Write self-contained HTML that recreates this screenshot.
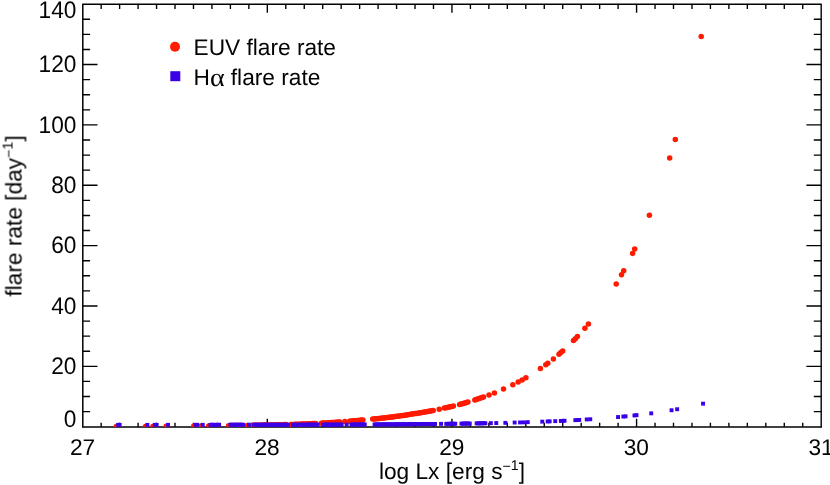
<!DOCTYPE html>
<html><head><meta charset="utf-8"><title>flare rate</title>
<style>html,body{margin:0;padding:0;background:#fff;}svg{display:block;}</style>
</head><body>
<svg width="830" height="485" viewBox="0 0 830 485">
<rect width="830" height="485" fill="#fff"/>
<defs><clipPath id="c"><rect x="82.70" y="4.20" width="738.50" height="422.70"/></clipPath></defs>
<g stroke="#000" fill="none" stroke-linecap="butt">
<path stroke-width="1.4" d="M82.20 4.20H821.70"/>
<path stroke-width="1.4" d="M821.20 4.20V427.40"/>
<path stroke-width="1.6" d="M82.30 426.95H821.70"/>
<path stroke-width="1.5" d="M82.80 4.20V427.40"/>
</g>
<g stroke="#000" stroke-width="1.38" fill="none" stroke-linecap="butt">
<path d="M101.16 426.70V422.70M101.16 4.20V8.90"/>
<path d="M119.62 426.70V422.70M119.62 4.20V8.90"/>
<path d="M138.09 426.70V422.70M138.09 4.20V8.90"/>
<path d="M156.55 426.70V422.70M156.55 4.20V8.90"/>
<path d="M175.01 426.70V422.70M175.01 4.20V8.90"/>
<path d="M193.48 426.70V422.70M193.48 4.20V8.90"/>
<path d="M211.94 426.70V422.70M211.94 4.20V8.90"/>
<path d="M230.40 426.70V422.70M230.40 4.20V8.90"/>
<path d="M248.86 426.70V422.70M248.86 4.20V8.90"/>
<path d="M267.32 426.70V418.70M267.32 4.20V12.80"/>
<path d="M285.79 426.70V422.70M285.79 4.20V8.90"/>
<path d="M304.25 426.70V422.70M304.25 4.20V8.90"/>
<path d="M322.71 426.70V422.70M322.71 4.20V8.90"/>
<path d="M341.17 426.70V422.70M341.17 4.20V8.90"/>
<path d="M359.64 426.70V422.70M359.64 4.20V8.90"/>
<path d="M378.10 426.70V422.70M378.10 4.20V8.90"/>
<path d="M396.56 426.70V422.70M396.56 4.20V8.90"/>
<path d="M415.03 426.70V422.70M415.03 4.20V8.90"/>
<path d="M433.49 426.70V422.70M433.49 4.20V8.90"/>
<path d="M451.95 426.70V418.70M451.95 4.20V12.80"/>
<path d="M470.41 426.70V422.70M470.41 4.20V8.90"/>
<path d="M488.87 426.70V422.70M488.87 4.20V8.90"/>
<path d="M507.34 426.70V422.70M507.34 4.20V8.90"/>
<path d="M525.80 426.70V422.70M525.80 4.20V8.90"/>
<path d="M544.26 426.70V422.70M544.26 4.20V8.90"/>
<path d="M562.73 426.70V422.70M562.73 4.20V8.90"/>
<path d="M581.19 426.70V422.70M581.19 4.20V8.90"/>
<path d="M599.65 426.70V422.70M599.65 4.20V8.90"/>
<path d="M618.11 426.70V422.70M618.11 4.20V8.90"/>
<path d="M636.58 426.70V418.70M636.58 4.20V12.80"/>
<path d="M655.04 426.70V422.70M655.04 4.20V8.90"/>
<path d="M673.50 426.70V422.70M673.50 4.20V8.90"/>
<path d="M691.96 426.70V422.70M691.96 4.20V8.90"/>
<path d="M710.42 426.70V422.70M710.42 4.20V8.90"/>
<path d="M728.89 426.70V422.70M728.89 4.20V8.90"/>
<path d="M747.35 426.70V422.70M747.35 4.20V8.90"/>
<path d="M765.81 426.70V422.70M765.81 4.20V8.90"/>
<path d="M784.28 426.70V422.70M784.28 4.20V8.90"/>
<path d="M802.74 426.70V422.70M802.74 4.20V8.90"/>
<path d="M82.70 411.61H90.10M821.20 411.61H813.80"/>
<path d="M82.70 396.52H90.10M821.20 396.52H813.80"/>
<path d="M82.70 381.43H90.10M821.20 381.43H813.80"/>
<path d="M82.70 366.34H97.50M821.20 366.34H806.40"/>
<path d="M82.70 351.25H90.10M821.20 351.25H813.80"/>
<path d="M82.70 336.16H90.10M821.20 336.16H813.80"/>
<path d="M82.70 321.07H90.10M821.20 321.07H813.80"/>
<path d="M82.70 305.99H97.50M821.20 305.99H806.40"/>
<path d="M82.70 290.90H90.10M821.20 290.90H813.80"/>
<path d="M82.70 275.81H90.10M821.20 275.81H813.80"/>
<path d="M82.70 260.72H90.10M821.20 260.72H813.80"/>
<path d="M82.70 245.63H97.50M821.20 245.63H806.40"/>
<path d="M82.70 230.54H90.10M821.20 230.54H813.80"/>
<path d="M82.70 215.45H90.10M821.20 215.45H813.80"/>
<path d="M82.70 200.36H90.10M821.20 200.36H813.80"/>
<path d="M82.70 185.27H97.50M821.20 185.27H806.40"/>
<path d="M82.70 170.18H90.10M821.20 170.18H813.80"/>
<path d="M82.70 155.09H90.10M821.20 155.09H813.80"/>
<path d="M82.70 140.00H90.10M821.20 140.00H813.80"/>
<path d="M82.70 124.91H97.50M821.20 124.91H806.40"/>
<path d="M82.70 109.82H90.10M821.20 109.82H813.80"/>
<path d="M82.70 94.74H90.10M821.20 94.74H813.80"/>
<path d="M82.70 79.65H90.10M821.20 79.65H813.80"/>
<path d="M82.70 64.56H97.50M821.20 64.56H806.40"/>
<path d="M82.70 49.47H90.10M821.20 49.47H813.80"/>
<path d="M82.70 34.38H90.10M821.20 34.38H813.80"/>
<path d="M82.70 19.29H90.10M821.20 19.29H813.80"/>
</g>
<g clip-path="url(#c)">
<g fill="#ff1a00">
<circle cx="116.3" cy="426.5" r="2.75"/>
<circle cx="117.8" cy="426.5" r="2.75"/>
<circle cx="145.5" cy="426.4" r="2.75"/>
<circle cx="152.9" cy="426.4" r="2.75"/>
<circle cx="154.8" cy="426.4" r="2.75"/>
<circle cx="166.2" cy="426.3" r="2.75"/>
<circle cx="193.8" cy="426.1" r="2.75"/>
<circle cx="195.2" cy="426.1" r="2.75"/>
<circle cx="200.8" cy="426.0" r="2.75"/>
<circle cx="208.6" cy="425.9" r="2.75"/>
<circle cx="210.1" cy="425.9" r="2.75"/>
<circle cx="211.5" cy="425.9" r="2.75"/>
<circle cx="212.9" cy="425.9" r="2.75"/>
<circle cx="214.4" cy="425.9" r="2.75"/>
<circle cx="215.9" cy="425.9" r="2.75"/>
<circle cx="217.3" cy="425.9" r="2.75"/>
<circle cx="228.6" cy="425.7" r="2.75"/>
<circle cx="230.0" cy="425.7" r="2.75"/>
<circle cx="231.4" cy="425.7" r="2.75"/>
<circle cx="232.8" cy="425.7" r="2.75"/>
<circle cx="234.2" cy="425.6" r="2.75"/>
<circle cx="235.7" cy="425.6" r="2.75"/>
<circle cx="237.1" cy="425.6" r="2.75"/>
<circle cx="238.5" cy="425.6" r="2.75"/>
<circle cx="239.9" cy="425.6" r="2.75"/>
<circle cx="241.3" cy="425.5" r="2.75"/>
<circle cx="247.3" cy="425.4" r="2.75"/>
<circle cx="252.2" cy="425.3" r="2.75"/>
<circle cx="253.6" cy="425.3" r="2.75"/>
<circle cx="255.0" cy="425.3" r="2.75"/>
<circle cx="256.4" cy="425.3" r="2.75"/>
<circle cx="257.9" cy="425.2" r="2.75"/>
<circle cx="259.3" cy="425.2" r="2.75"/>
<circle cx="260.7" cy="425.2" r="2.75"/>
<circle cx="262.1" cy="425.2" r="2.75"/>
<circle cx="263.5" cy="425.1" r="2.75"/>
<circle cx="264.9" cy="425.1" r="2.75"/>
<circle cx="266.3" cy="425.1" r="2.75"/>
<circle cx="267.7" cy="425.0" r="2.75"/>
<circle cx="269.1" cy="425.0" r="2.75"/>
<circle cx="270.6" cy="425.0" r="2.75"/>
<circle cx="272.0" cy="425.0" r="2.75"/>
<circle cx="273.4" cy="424.9" r="2.75"/>
<circle cx="274.8" cy="424.9" r="2.75"/>
<circle cx="276.2" cy="424.9" r="2.75"/>
<circle cx="277.6" cy="424.8" r="2.75"/>
<circle cx="279.0" cy="424.8" r="2.75"/>
<circle cx="280.5" cy="424.7" r="2.75"/>
<circle cx="281.9" cy="424.7" r="2.75"/>
<circle cx="283.3" cy="424.7" r="2.75"/>
<circle cx="284.7" cy="424.6" r="2.75"/>
<circle cx="286.1" cy="424.6" r="2.75"/>
<circle cx="291.0" cy="424.5" r="2.75"/>
<circle cx="292.4" cy="424.4" r="2.75"/>
<circle cx="293.8" cy="424.4" r="2.75"/>
<circle cx="295.1" cy="424.3" r="2.75"/>
<circle cx="296.5" cy="424.3" r="2.75"/>
<circle cx="297.9" cy="424.3" r="2.75"/>
<circle cx="299.3" cy="424.2" r="2.75"/>
<circle cx="300.6" cy="424.2" r="2.75"/>
<circle cx="302.0" cy="424.1" r="2.75"/>
<circle cx="303.4" cy="424.1" r="2.75"/>
<circle cx="304.8" cy="424.0" r="2.75"/>
<circle cx="306.2" cy="424.0" r="2.75"/>
<circle cx="307.5" cy="423.9" r="2.75"/>
<circle cx="308.9" cy="423.8" r="2.75"/>
<circle cx="310.3" cy="423.8" r="2.75"/>
<circle cx="311.7" cy="423.7" r="2.75"/>
<circle cx="313.0" cy="423.6" r="2.75"/>
<circle cx="314.4" cy="423.6" r="2.75"/>
<circle cx="315.8" cy="423.5" r="2.75"/>
<circle cx="321.4" cy="423.2" r="2.75"/>
<circle cx="322.8" cy="423.1" r="2.75"/>
<circle cx="324.2" cy="423.0" r="2.75"/>
<circle cx="325.6" cy="422.9" r="2.75"/>
<circle cx="327.1" cy="422.9" r="2.75"/>
<circle cx="328.5" cy="422.8" r="2.75"/>
<circle cx="329.9" cy="422.7" r="2.75"/>
<circle cx="331.3" cy="422.6" r="2.75"/>
<circle cx="332.7" cy="422.5" r="2.75"/>
<circle cx="334.1" cy="422.4" r="2.75"/>
<circle cx="335.6" cy="422.3" r="2.75"/>
<circle cx="337.0" cy="422.2" r="2.75"/>
<circle cx="338.4" cy="422.1" r="2.75"/>
<circle cx="339.8" cy="422.0" r="2.75"/>
<circle cx="344.8" cy="421.6" r="2.75"/>
<circle cx="349.6" cy="421.2" r="2.75"/>
<circle cx="351.1" cy="421.1" r="2.75"/>
<circle cx="352.6" cy="420.9" r="2.75"/>
<circle cx="354.0" cy="420.8" r="2.75"/>
<circle cx="355.5" cy="420.7" r="2.75"/>
<circle cx="357.0" cy="420.5" r="2.75"/>
<circle cx="358.5" cy="420.4" r="2.75"/>
<circle cx="359.9" cy="420.3" r="2.75"/>
<circle cx="361.4" cy="420.1" r="2.75"/>
<circle cx="362.9" cy="420.0" r="2.75"/>
<circle cx="372.7" cy="419.1" r="2.75"/>
<circle cx="374.1" cy="419.0" r="2.75"/>
<circle cx="375.5" cy="418.8" r="2.75"/>
<circle cx="376.9" cy="418.7" r="2.75"/>
<circle cx="378.3" cy="418.5" r="2.75"/>
<circle cx="379.7" cy="418.4" r="2.75"/>
<circle cx="381.1" cy="418.2" r="2.75"/>
<circle cx="382.5" cy="418.1" r="2.75"/>
<circle cx="384.0" cy="417.9" r="2.75"/>
<circle cx="385.4" cy="417.7" r="2.75"/>
<circle cx="386.8" cy="417.6" r="2.75"/>
<circle cx="388.2" cy="417.4" r="2.75"/>
<circle cx="389.6" cy="417.2" r="2.75"/>
<circle cx="391.0" cy="417.1" r="2.75"/>
<circle cx="392.4" cy="416.9" r="2.75"/>
<circle cx="393.8" cy="416.7" r="2.75"/>
<circle cx="395.2" cy="416.5" r="2.75"/>
<circle cx="396.6" cy="416.3" r="2.75"/>
<circle cx="398.0" cy="416.2" r="2.75"/>
<circle cx="399.4" cy="416.0" r="2.75"/>
<circle cx="400.8" cy="415.8" r="2.75"/>
<circle cx="402.2" cy="415.6" r="2.75"/>
<circle cx="403.7" cy="415.4" r="2.75"/>
<circle cx="405.1" cy="415.2" r="2.75"/>
<circle cx="406.5" cy="414.9" r="2.75"/>
<circle cx="407.9" cy="414.7" r="2.75"/>
<circle cx="409.3" cy="414.5" r="2.75"/>
<circle cx="410.7" cy="414.3" r="2.75"/>
<circle cx="412.1" cy="414.1" r="2.75"/>
<circle cx="413.5" cy="413.8" r="2.75"/>
<circle cx="414.9" cy="413.6" r="2.75"/>
<circle cx="416.3" cy="413.4" r="2.75"/>
<circle cx="417.7" cy="413.2" r="2.75"/>
<circle cx="419.1" cy="412.9" r="2.75"/>
<circle cx="420.5" cy="412.7" r="2.75"/>
<circle cx="421.9" cy="412.5" r="2.75"/>
<circle cx="423.4" cy="412.2" r="2.75"/>
<circle cx="424.8" cy="412.0" r="2.75"/>
<circle cx="426.2" cy="411.7" r="2.75"/>
<circle cx="427.6" cy="411.5" r="2.75"/>
<circle cx="429.0" cy="411.2" r="2.75"/>
<circle cx="430.4" cy="410.9" r="2.75"/>
<circle cx="431.8" cy="410.7" r="2.75"/>
<circle cx="433.2" cy="410.4" r="2.75"/>
<circle cx="439.2" cy="409.2" r="2.75"/>
<circle cx="444.4" cy="408.1" r="2.75"/>
<circle cx="445.9" cy="407.8" r="2.75"/>
<circle cx="447.4" cy="407.4" r="2.75"/>
<circle cx="448.9" cy="407.1" r="2.75"/>
<circle cx="450.4" cy="406.7" r="2.75"/>
<circle cx="451.9" cy="406.4" r="2.75"/>
<circle cx="453.4" cy="406.0" r="2.75"/>
<circle cx="459.6" cy="404.4" r="2.75"/>
<circle cx="461.0" cy="404.0" r="2.75"/>
<circle cx="462.4" cy="403.7" r="2.75"/>
<circle cx="463.8" cy="403.3" r="2.75"/>
<circle cx="465.1" cy="402.9" r="2.75"/>
<circle cx="466.5" cy="402.5" r="2.75"/>
<circle cx="467.9" cy="402.1" r="2.75"/>
<circle cx="474.8" cy="400.0" r="2.75"/>
<circle cx="476.2" cy="399.5" r="2.75"/>
<circle cx="477.7" cy="399.1" r="2.75"/>
<circle cx="479.1" cy="398.6" r="2.75"/>
<circle cx="480.6" cy="398.1" r="2.75"/>
<circle cx="482.1" cy="397.6" r="2.75"/>
<circle cx="483.5" cy="397.1" r="2.75"/>
<circle cx="489.0" cy="395.1" r="2.75"/>
<circle cx="494.4" cy="393.0" r="2.75"/>
<circle cx="503.5" cy="389.1" r="2.75"/>
<circle cx="512.8" cy="384.8" r="2.75"/>
<circle cx="518.2" cy="382.0" r="2.75"/>
<circle cx="522.1" cy="379.9" r="2.75"/>
<circle cx="525.9" cy="377.7" r="2.75"/>
<circle cx="540.4" cy="368.5" r="2.75"/>
<circle cx="545.8" cy="364.7" r="2.75"/>
<circle cx="547.8" cy="363.2" r="2.75"/>
<circle cx="553.4" cy="358.9" r="2.75"/>
<circle cx="559.0" cy="354.2" r="2.75"/>
<circle cx="560.8" cy="352.6" r="2.75"/>
<circle cx="562.7" cy="351.0" r="2.75"/>
<circle cx="573.5" cy="340.6" r="2.75"/>
<circle cx="575.4" cy="338.7" r="2.75"/>
<circle cx="577.4" cy="336.6" r="2.75"/>
<circle cx="584.9" cy="328.2" r="2.75"/>
<circle cx="588.4" cy="324.0" r="2.75"/>
<circle cx="616.2" cy="284.0" r="2.75"/>
<circle cx="621.5" cy="274.8" r="2.75"/>
<circle cx="623.7" cy="270.8" r="2.75"/>
<circle cx="632.6" cy="253.4" r="2.75"/>
<circle cx="634.7" cy="249.1" r="2.75"/>
<circle cx="649.4" cy="215.3" r="2.75"/>
<circle cx="669.7" cy="157.9" r="2.75"/>
<circle cx="675.3" cy="139.5" r="2.75"/>
<circle cx="701.2" cy="36.5" r="2.75"/>
</g>
<g fill="#3a00e6">
<rect x="116.2" y="422.9" width="3.9" height="3.9"/>
<rect x="117.7" y="422.9" width="3.9" height="3.9"/>
<rect x="145.4" y="422.9" width="3.9" height="3.9"/>
<rect x="152.8" y="422.9" width="3.9" height="3.9"/>
<rect x="154.7" y="422.9" width="3.9" height="3.9"/>
<rect x="166.1" y="422.9" width="3.9" height="3.9"/>
<rect x="193.7" y="422.9" width="3.9" height="3.9"/>
<rect x="195.1" y="422.9" width="3.9" height="3.9"/>
<rect x="200.8" y="422.9" width="3.9" height="3.9"/>
<rect x="208.5" y="422.9" width="3.9" height="3.9"/>
<rect x="210.0" y="422.9" width="3.9" height="3.9"/>
<rect x="211.4" y="422.9" width="3.9" height="3.9"/>
<rect x="212.8" y="422.9" width="3.9" height="3.9"/>
<rect x="214.3" y="422.9" width="3.9" height="3.9"/>
<rect x="215.8" y="422.8" width="3.9" height="3.9"/>
<rect x="217.2" y="422.8" width="3.9" height="3.9"/>
<rect x="228.5" y="422.8" width="3.9" height="3.9"/>
<rect x="229.9" y="422.8" width="3.9" height="3.9"/>
<rect x="231.3" y="422.8" width="3.9" height="3.9"/>
<rect x="232.7" y="422.8" width="3.9" height="3.9"/>
<rect x="234.1" y="422.8" width="3.9" height="3.9"/>
<rect x="235.6" y="422.8" width="3.9" height="3.9"/>
<rect x="237.0" y="422.8" width="3.9" height="3.9"/>
<rect x="238.4" y="422.8" width="3.9" height="3.9"/>
<rect x="239.8" y="422.8" width="3.9" height="3.9"/>
<rect x="241.2" y="422.8" width="3.9" height="3.9"/>
<rect x="247.2" y="422.8" width="3.9" height="3.9"/>
<rect x="252.1" y="422.8" width="3.9" height="3.9"/>
<rect x="253.5" y="422.8" width="3.9" height="3.9"/>
<rect x="254.9" y="422.8" width="3.9" height="3.9"/>
<rect x="256.3" y="422.8" width="3.9" height="3.9"/>
<rect x="257.8" y="422.8" width="3.9" height="3.9"/>
<rect x="259.2" y="422.8" width="3.9" height="3.9"/>
<rect x="260.6" y="422.8" width="3.9" height="3.9"/>
<rect x="262.0" y="422.8" width="3.9" height="3.9"/>
<rect x="263.4" y="422.8" width="3.9" height="3.9"/>
<rect x="264.8" y="422.8" width="3.9" height="3.9"/>
<rect x="266.2" y="422.8" width="3.9" height="3.9"/>
<rect x="267.6" y="422.8" width="3.9" height="3.9"/>
<rect x="269.1" y="422.8" width="3.9" height="3.9"/>
<rect x="270.5" y="422.8" width="3.9" height="3.9"/>
<rect x="271.9" y="422.8" width="3.9" height="3.9"/>
<rect x="273.3" y="422.8" width="3.9" height="3.9"/>
<rect x="274.7" y="422.8" width="3.9" height="3.9"/>
<rect x="276.1" y="422.8" width="3.9" height="3.9"/>
<rect x="277.5" y="422.8" width="3.9" height="3.9"/>
<rect x="278.9" y="422.8" width="3.9" height="3.9"/>
<rect x="280.4" y="422.8" width="3.9" height="3.9"/>
<rect x="281.8" y="422.8" width="3.9" height="3.9"/>
<rect x="283.2" y="422.8" width="3.9" height="3.9"/>
<rect x="284.6" y="422.8" width="3.9" height="3.9"/>
<rect x="286.0" y="422.8" width="3.9" height="3.9"/>
<rect x="290.9" y="422.8" width="3.9" height="3.9"/>
<rect x="292.3" y="422.8" width="3.9" height="3.9"/>
<rect x="293.7" y="422.8" width="3.9" height="3.9"/>
<rect x="295.0" y="422.8" width="3.9" height="3.9"/>
<rect x="296.4" y="422.8" width="3.9" height="3.9"/>
<rect x="297.8" y="422.8" width="3.9" height="3.9"/>
<rect x="299.2" y="422.8" width="3.9" height="3.9"/>
<rect x="300.5" y="422.8" width="3.9" height="3.9"/>
<rect x="301.9" y="422.8" width="3.9" height="3.9"/>
<rect x="303.3" y="422.8" width="3.9" height="3.9"/>
<rect x="304.7" y="422.7" width="3.9" height="3.9"/>
<rect x="306.1" y="422.7" width="3.9" height="3.9"/>
<rect x="307.4" y="422.7" width="3.9" height="3.9"/>
<rect x="308.8" y="422.7" width="3.9" height="3.9"/>
<rect x="310.2" y="422.7" width="3.9" height="3.9"/>
<rect x="311.6" y="422.7" width="3.9" height="3.9"/>
<rect x="312.9" y="422.7" width="3.9" height="3.9"/>
<rect x="314.3" y="422.7" width="3.9" height="3.9"/>
<rect x="315.7" y="422.7" width="3.9" height="3.9"/>
<rect x="321.3" y="422.7" width="3.9" height="3.9"/>
<rect x="322.7" y="422.7" width="3.9" height="3.9"/>
<rect x="324.1" y="422.7" width="3.9" height="3.9"/>
<rect x="325.5" y="422.7" width="3.9" height="3.9"/>
<rect x="327.0" y="422.7" width="3.9" height="3.9"/>
<rect x="328.4" y="422.7" width="3.9" height="3.9"/>
<rect x="329.8" y="422.7" width="3.9" height="3.9"/>
<rect x="331.2" y="422.7" width="3.9" height="3.9"/>
<rect x="332.6" y="422.7" width="3.9" height="3.9"/>
<rect x="334.0" y="422.7" width="3.9" height="3.9"/>
<rect x="335.5" y="422.7" width="3.9" height="3.9"/>
<rect x="336.9" y="422.7" width="3.9" height="3.9"/>
<rect x="338.3" y="422.6" width="3.9" height="3.9"/>
<rect x="339.7" y="422.6" width="3.9" height="3.9"/>
<rect x="344.7" y="422.6" width="3.9" height="3.9"/>
<rect x="349.5" y="422.6" width="3.9" height="3.9"/>
<rect x="351.0" y="422.6" width="3.9" height="3.9"/>
<rect x="352.5" y="422.6" width="3.9" height="3.9"/>
<rect x="353.9" y="422.6" width="3.9" height="3.9"/>
<rect x="355.4" y="422.6" width="3.9" height="3.9"/>
<rect x="356.9" y="422.6" width="3.9" height="3.9"/>
<rect x="358.4" y="422.6" width="3.9" height="3.9"/>
<rect x="359.8" y="422.5" width="3.9" height="3.9"/>
<rect x="361.3" y="422.5" width="3.9" height="3.9"/>
<rect x="362.8" y="422.5" width="3.9" height="3.9"/>
<rect x="372.6" y="422.5" width="3.9" height="3.9"/>
<rect x="374.0" y="422.5" width="3.9" height="3.9"/>
<rect x="375.4" y="422.5" width="3.9" height="3.9"/>
<rect x="376.8" y="422.5" width="3.9" height="3.9"/>
<rect x="378.2" y="422.5" width="3.9" height="3.9"/>
<rect x="379.6" y="422.4" width="3.9" height="3.9"/>
<rect x="381.0" y="422.4" width="3.9" height="3.9"/>
<rect x="382.4" y="422.4" width="3.9" height="3.9"/>
<rect x="383.9" y="422.4" width="3.9" height="3.9"/>
<rect x="385.3" y="422.4" width="3.9" height="3.9"/>
<rect x="386.7" y="422.4" width="3.9" height="3.9"/>
<rect x="388.1" y="422.4" width="3.9" height="3.9"/>
<rect x="389.5" y="422.4" width="3.9" height="3.9"/>
<rect x="390.9" y="422.4" width="3.9" height="3.9"/>
<rect x="392.3" y="422.4" width="3.9" height="3.9"/>
<rect x="393.7" y="422.4" width="3.9" height="3.9"/>
<rect x="395.1" y="422.3" width="3.9" height="3.9"/>
<rect x="396.5" y="422.3" width="3.9" height="3.9"/>
<rect x="397.9" y="422.3" width="3.9" height="3.9"/>
<rect x="399.3" y="422.3" width="3.9" height="3.9"/>
<rect x="400.7" y="422.3" width="3.9" height="3.9"/>
<rect x="402.1" y="422.3" width="3.9" height="3.9"/>
<rect x="403.6" y="422.3" width="3.9" height="3.9"/>
<rect x="405.0" y="422.3" width="3.9" height="3.9"/>
<rect x="406.4" y="422.3" width="3.9" height="3.9"/>
<rect x="407.8" y="422.2" width="3.9" height="3.9"/>
<rect x="409.2" y="422.2" width="3.9" height="3.9"/>
<rect x="410.6" y="422.2" width="3.9" height="3.9"/>
<rect x="412.0" y="422.2" width="3.9" height="3.9"/>
<rect x="413.4" y="422.2" width="3.9" height="3.9"/>
<rect x="414.8" y="422.2" width="3.9" height="3.9"/>
<rect x="416.2" y="422.2" width="3.9" height="3.9"/>
<rect x="417.6" y="422.2" width="3.9" height="3.9"/>
<rect x="419.0" y="422.1" width="3.9" height="3.9"/>
<rect x="420.4" y="422.1" width="3.9" height="3.9"/>
<rect x="421.8" y="422.1" width="3.9" height="3.9"/>
<rect x="423.3" y="422.1" width="3.9" height="3.9"/>
<rect x="424.7" y="422.1" width="3.9" height="3.9"/>
<rect x="426.1" y="422.1" width="3.9" height="3.9"/>
<rect x="427.5" y="422.1" width="3.9" height="3.9"/>
<rect x="428.9" y="422.1" width="3.9" height="3.9"/>
<rect x="430.3" y="422.0" width="3.9" height="3.9"/>
<rect x="431.7" y="422.0" width="3.9" height="3.9"/>
<rect x="433.1" y="422.0" width="3.9" height="3.9"/>
<rect x="439.1" y="421.9" width="3.9" height="3.9"/>
<rect x="444.3" y="421.9" width="3.9" height="3.9"/>
<rect x="445.8" y="421.9" width="3.9" height="3.9"/>
<rect x="447.3" y="421.8" width="3.9" height="3.9"/>
<rect x="448.8" y="421.8" width="3.9" height="3.9"/>
<rect x="450.3" y="421.8" width="3.9" height="3.9"/>
<rect x="451.8" y="421.8" width="3.9" height="3.9"/>
<rect x="453.3" y="421.8" width="3.9" height="3.9"/>
<rect x="459.5" y="421.7" width="3.9" height="3.9"/>
<rect x="460.9" y="421.7" width="3.9" height="3.9"/>
<rect x="462.3" y="421.6" width="3.9" height="3.9"/>
<rect x="463.7" y="421.6" width="3.9" height="3.9"/>
<rect x="465.0" y="421.6" width="3.9" height="3.9"/>
<rect x="466.4" y="421.6" width="3.9" height="3.9"/>
<rect x="467.8" y="421.6" width="3.9" height="3.9"/>
<rect x="474.7" y="421.4" width="3.9" height="3.9"/>
<rect x="476.2" y="421.4" width="3.9" height="3.9"/>
<rect x="477.6" y="421.4" width="3.9" height="3.9"/>
<rect x="479.1" y="421.4" width="3.9" height="3.9"/>
<rect x="480.5" y="421.3" width="3.9" height="3.9"/>
<rect x="482.0" y="421.3" width="3.9" height="3.9"/>
<rect x="483.4" y="421.3" width="3.9" height="3.9"/>
<rect x="488.9" y="421.2" width="3.9" height="3.9"/>
<rect x="494.3" y="421.1" width="3.9" height="3.9"/>
<rect x="503.4" y="420.9" width="3.9" height="3.9"/>
<rect x="512.7" y="420.6" width="3.9" height="3.9"/>
<rect x="518.1" y="420.5" width="3.9" height="3.9"/>
<rect x="522.0" y="420.4" width="3.9" height="3.9"/>
<rect x="525.8" y="420.2" width="3.9" height="3.9"/>
<rect x="540.3" y="419.7" width="3.9" height="3.9"/>
<rect x="545.7" y="419.5" width="3.9" height="3.9"/>
<rect x="547.7" y="419.4" width="3.9" height="3.9"/>
<rect x="553.3" y="419.2" width="3.9" height="3.9"/>
<rect x="558.9" y="419.0" width="3.9" height="3.9"/>
<rect x="560.7" y="418.9" width="3.9" height="3.9"/>
<rect x="562.6" y="418.8" width="3.9" height="3.9"/>
<rect x="573.4" y="418.2" width="3.9" height="3.9"/>
<rect x="575.3" y="418.1" width="3.9" height="3.9"/>
<rect x="577.3" y="418.0" width="3.9" height="3.9"/>
<rect x="584.8" y="417.5" width="3.9" height="3.9"/>
<rect x="588.3" y="417.3" width="3.9" height="3.9"/>
<rect x="616.1" y="415.1" width="3.9" height="3.9"/>
<rect x="621.4" y="414.6" width="3.9" height="3.9"/>
<rect x="623.6" y="414.4" width="3.9" height="3.9"/>
<rect x="632.5" y="413.5" width="3.9" height="3.9"/>
<rect x="634.6" y="413.2" width="3.9" height="3.9"/>
<rect x="649.3" y="411.4" width="3.9" height="3.9"/>
<rect x="669.6" y="408.3" width="3.9" height="3.9"/>
<rect x="675.2" y="407.3" width="3.9" height="3.9"/>
<rect x="701.1" y="401.7" width="3.9" height="3.9"/>
</g></g>
<g font-family="Liberation Sans, sans-serif" font-size="22.7px" fill="#000" text-rendering="geometricPrecision" opacity="0.99">
<text transform="translate(76.40,426.70) scale(1,1.050)" text-anchor="end">0</text>
<text transform="translate(76.40,374.04) scale(1,1.050)" text-anchor="end">20</text>
<text transform="translate(76.40,313.69) scale(1,1.050)" text-anchor="end">40</text>
<text transform="translate(76.40,253.33) scale(1,1.050)" text-anchor="end">60</text>
<text transform="translate(76.40,192.97) scale(1,1.050)" text-anchor="end">80</text>
<text transform="translate(76.40,132.61) scale(1,1.050)" text-anchor="end">100</text>
<text transform="translate(76.40,72.26) scale(1,1.050)" text-anchor="end">120</text>
<text transform="translate(76.40,17.90) scale(1,1.050)" text-anchor="end">140</text>
<text transform="translate(82.50,454.80) scale(1,1.000)" text-anchor="middle">27</text>
<text transform="translate(267.12,454.80) scale(1,1.000)" text-anchor="middle">28</text>
<text transform="translate(451.75,454.80) scale(1,1.000)" text-anchor="middle">29</text>
<text transform="translate(636.38,454.80) scale(1,1.000)" text-anchor="middle">30</text>
<text transform="translate(821.00,454.80) scale(1,1.000)" text-anchor="middle">31</text>
<text transform="translate(193.50,55.00) scale(1,1.000)" text-anchor="start">EUV flare rate</text>
<text transform="translate(193.50,85.00) scale(1,1.000)" text-anchor="start">H</text>
<text transform="translate(210.0,86.0) scale(1.075,1)" font-family="Liberation Serif, serif" font-size="26.2px">α</text>
<text transform="translate(230.80,85.00) scale(1,1.000)" text-anchor="start">flare rate</text>
<text transform="translate(378.90,479.30) scale(1,1.000)" text-anchor="start">log Lx [erg s<tspan font-size="14.2px" dy="-8.2">−</tspan><tspan font-size="14.2px" dy="-1.1">1</tspan><tspan dy="9.3">]</tspan></text>
<text transform="translate(21.50,296.60) rotate(-90) scale(1,1.000)" text-anchor="start">flare rate [day<tspan font-size="14.2px" dy="-8.2">−</tspan><tspan font-size="14.2px" dy="-1.1">1</tspan><tspan dy="9.3">]</tspan></text>
</g>
<circle cx="175" cy="46.8" r="5" fill="#ff1a00"/>
<rect x="170.3" y="71.2" width="10" height="10" fill="#3a00e6"/>
</svg>
</body></html>
